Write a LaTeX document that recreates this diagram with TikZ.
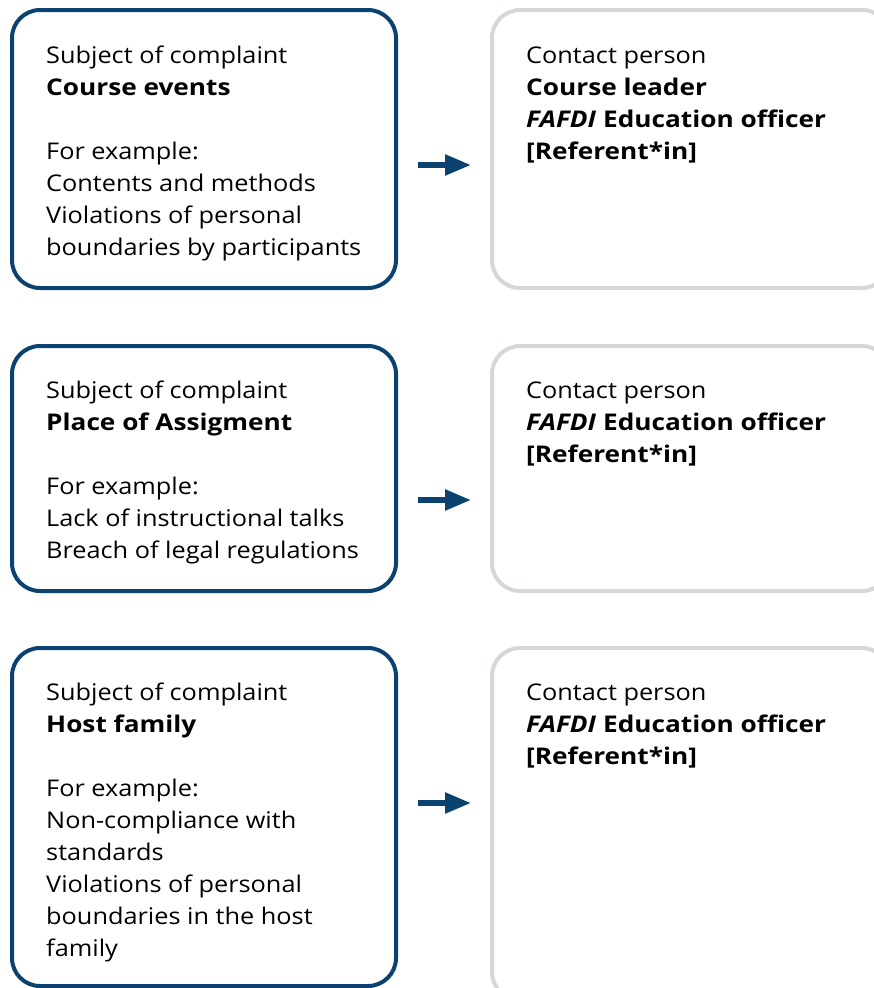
\documentclass[tikz,border=0pt]{standalone}
\usepackage{fontspec}
\setmainfont{Open Sans}[FakeStretch=1.10,BoldFeatures={FakeStretch=1.14},BoldItalicFeatures={FakeStretch=1.14}]
\usetikzlibrary{arrows.meta}
\definecolor{navy}{HTML}{0B426F}
\definecolor{lgray}{HTML}{D6D7DB}
\begin{document}
\begin{tikzpicture}[x=1pt,y=-1pt,
  leftbox/.style={draw=navy,line width=4pt,rounded corners=28pt},
  rightbox/.style={draw=lgray,line width=4pt,rounded corners=28pt},
  txt/.style={anchor=base west,align=left,inner sep=0pt,font=\fontsize{23}{32}\selectfont},
  arr/.style={draw=navy,line width=5.5pt,-{Triangle[length=26pt,width=20pt]}}]
\useasboundingbox (0,0) rectangle (873,988);
% boxes
\draw[leftbox] (12,10) rectangle (396,288);
\draw[rightbox] (492,10) rectangle (890,288);
\draw[leftbox] (12,346) rectangle (396,591);
\draw[rightbox] (492,346) rectangle (890,591);
\draw[leftbox] (12,648) rectangle (396,986);
\draw[rightbox] (492,648) rectangle (890,1000);
% texts (anchored at the baseline of the last line)
\node[txt] (l1) at (46,255) {Subject of complaint\\\textbf{Course events}\\[32pt]For example:\\Contents and methods\\Violations of personal\\boundaries by participants};
\node[txt] (r1) at (526,159) {Contact person\\\textbf{Course leader}\\\textbf{\textit{FAFDI} Education officer}\\\textbf{[Referent*in]}};
\node[txt] (l2) at (46,558) {Subject of complaint\\\textbf{Place of Assigment}\\[32pt]For example:\\Lack of instructional talks\\Breach of legal regulations};
\node[txt] (r2) at (526,462) {Contact person\\\textbf{\textit{FAFDI} Education officer}\\\textbf{[Referent*in]}};
\node[txt] (l3) at (46,956) {Subject of complaint\\\textbf{Host family}\\[32pt]For example:\\Non-compliance with\\standards\\Violations of personal\\boundaries in the host\\family};
\node[txt] (r3) at (526,764) {Contact person\\\textbf{\textit{FAFDI} Education officer}\\\textbf{[Referent*in]}};
% arrows
\coordinate (a1s) at (418,165); \coordinate (a1e) at (471,165);
\coordinate (a2s) at (418,500); \coordinate (a2e) at (471,500);
\coordinate (a3s) at (418,803); \coordinate (a3e) at (471,803);
\draw[arr] (a1s) -- (a1e);
\draw[arr] (a2s) -- (a2e);
\draw[arr] (a3s) -- (a3e);
\end{tikzpicture}
\end{document}
